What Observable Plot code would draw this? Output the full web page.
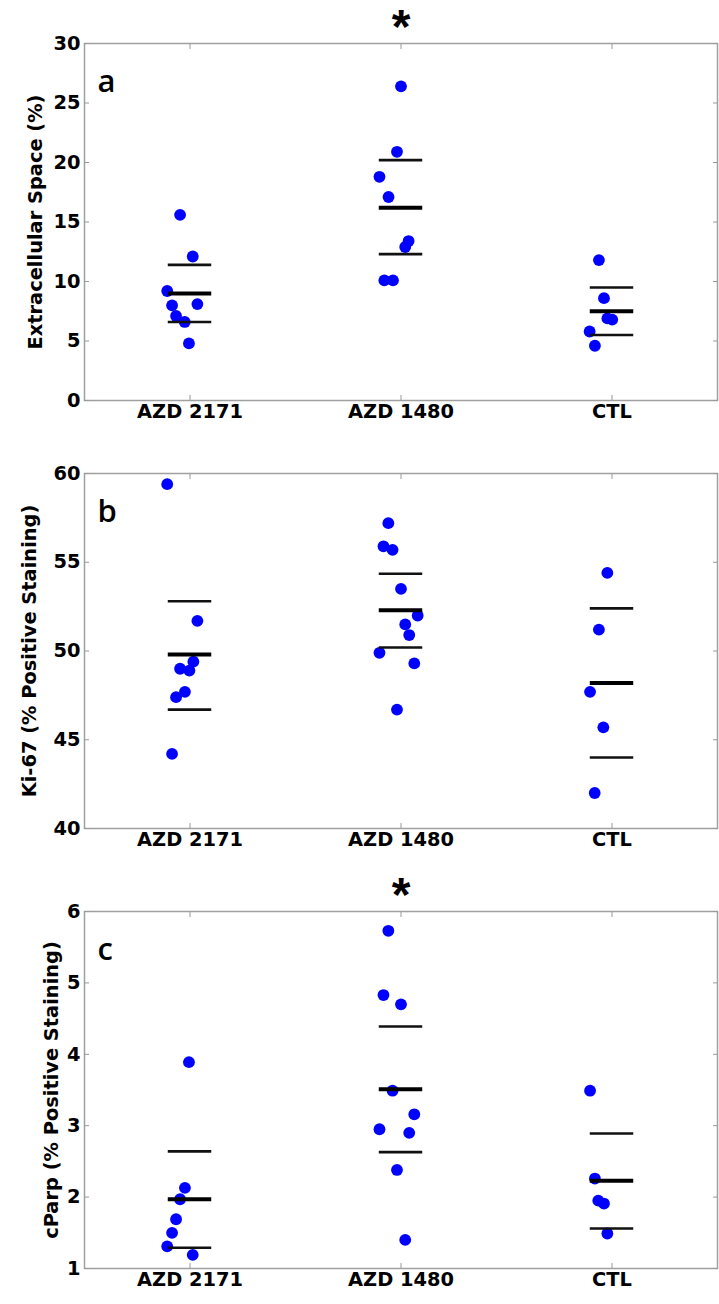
<!DOCTYPE html>
<html><head><meta charset="utf-8">
<script src="https://cdn.jsdelivr.net/npm/d3@7"></script>
<script src="https://cdn.jsdelivr.net/npm/@observablehq/plot@0.6"></script>
<style>
body{margin:0;background:#fff;}
#chart svg{display:block;}
</style>
</head><body><div id="chart"></div>
<script>
const groups = ["AZD 2171", "AZD 1480", "CTL"];

// Panel a: Extracellular Space (%)
const ecsValue  = [15.6, 12.1, 9.2, 8.0, 8.1, 7.1, 6.6, 4.8,
                   26.4, 20.9, 18.8, 17.1, 13.4, 12.9, 10.1, 10.1,
                   11.8, 8.6, 6.9, 6.8, 5.8, 4.6];
const ecsGroup  = [0,0,0,0,0,0,0,0, 1,1,1,1,1,1,1,1, 2,2,2,2,2,2];
const ecsJitter = [-0.047, 0.013, -0.108, -0.085, 0.035, -0.066, -0.025, -0.005,
                   0, -0.019, -0.102, -0.059, 0.036, 0.020, -0.079, -0.038,
                   -0.062, -0.038, -0.022, 0.001, -0.106, -0.081];
const ecsMean   = [9.0, 16.2, 7.5];
const ecsUpper  = [11.4, 20.2, 9.5];
const ecsLower  = [6.6, 12.3, 5.5];
const ecsTicks  = [0, 5, 10, 15, 20, 25, 30];

// Panel b: Ki-67 (% Positive Staining)
const kiValue  = [59.4, 51.7, 49.4, 49.0, 48.9, 47.7, 47.4, 44.2,
                  57.2, 55.9, 55.7, 53.5, 52.0, 51.5, 50.9, 49.9, 49.3, 46.7,
                  54.4, 51.2, 47.7, 45.7, 42.0];
const kiGroup  = [0,0,0,0,0,0,0,0, 1,1,1,1,1,1,1,1,1,1, 2,2,2,2,2];
const kiJitter = [-0.108, 0.035, 0.016, -0.047, -0.003, -0.024, -0.066, -0.085,
                  -0.060, -0.083, -0.040, 0, 0.079, 0.020, 0.039, -0.102, 0.063, -0.019,
                  -0.022, -0.062, -0.104, -0.041, -0.082];
const kiMean   = [49.8, 52.3, 48.2];
const kiUpper  = [52.8, 54.35, 52.4];
const kiLower  = [46.7, 50.2, 44.0];
const kiTicks  = [40, 45, 50, 55, 60];

// Panel c: cParp (% Positive Staining)
const cpValue  = [3.89, 2.13, 1.97, 1.69, 1.50, 1.31, 1.19,
                  5.73, 4.83, 4.70, 3.49, 3.16, 2.95, 2.90, 2.38, 1.40,
                  3.49, 2.26, 1.95, 1.91, 1.49];
const cpGroup  = [0,0,0,0,0,0,0, 1,1,1,1,1,1,1,1,1, 2,2,2,2,2];
const cpJitter = [-0.005, -0.024, -0.047, -0.066, -0.085, -0.108, 0.013,
                  -0.060, -0.083, 0, -0.040, 0.063, -0.102, 0.039, -0.019, 0.020,
                  -0.104, -0.081, -0.065, -0.038, -0.022];
const cpMean   = [1.97, 3.51, 2.23];
const cpUpper  = [2.64, 4.39, 2.89];
const cpLower  = [1.29, 2.63, 1.56];
const cpTicks  = [1, 2, 3, 4, 5, 6];

const HALF = 0.103;

function panel(o) {
  const pts = o.values.map((v, i) => ({x: o.group[i] + 1 + o.jitter[i], y: v}));
  const stat = (arr) => arr.map((v, i) => ({g: i + 1, y: v}));
  const font = "DejaVu Sans, Verdana, sans-serif";
  const fs = 19.4;
  const marks = [
    Plot.frame({stroke: "#a0a0a0", strokeWidth: 1.5}),
    Plot.axisY({anchor: "left", ticks: o.ticks, tickSize: -5, tickPadding: 9, stroke: "#999", fill: "#000", label: null,
      tickFormat: d => String(d), fontSize: fs, fontWeight: "bold"}),
    Plot.axisY({anchor: "right", ticks: o.ticks, tickSize: -5, stroke: "#999", fill: "none", label: null}),
    Plot.axisX({anchor: "bottom", ticks: [1, 2, 3], tickSize: -5, tickPadding: 9, stroke: "#999", fill: "#000", label: null,
      tickFormat: d => groups[d - 1], fontSize: fs, fontWeight: "bold"}),
    Plot.axisX({anchor: "top", ticks: [1, 2, 3], tickSize: -5, stroke: "#999", fill: "none", label: null}),
    Plot.dot(pts, {x: "x", y: "y", r: 5.9, fill: "#0000ff", stroke: "none"}),
    Plot.ruleY(stat(o.upper), {y: "y", x1: d => d.g - HALF, x2: d => d.g + HALF, stroke: "#111", strokeWidth: 2.6}),
    Plot.ruleY(stat(o.lower), {y: "y", x1: d => d.g - HALF, x2: d => d.g + HALF, stroke: "#111", strokeWidth: 2.6}),
    Plot.ruleY(stat(o.mean), {y: "y", x1: d => d.g - HALF, x2: d => d.g + HALF, stroke: "#000", strokeWidth: 4}),
    Plot.text([o.letter], {frameAnchor: "top-left", text: d => d, dx: 13, dy: 39, textAnchor: "start", lineAnchor: "middle",
      fontSize: 31, fontFamily: "Open Sans", fontWeight: 600, fill: "#000"}),
    Plot.text([o.yLabel], {frameAnchor: "left", text: d => d, dx: o.labelDx, rotate: -90, textAnchor: "middle", lineAnchor: "middle",
      fontSize: fs, fontWeight: "bold", fill: "#000"})
  ];
  if (o.star) marks.push(Plot.text(["*"], {x: 2, frameAnchor: "top", text: d => d, dy: -35, fontSize: 48, fontWeight: "bold",
    fontFamily: "Liberation Sans, Arial, sans-serif", fill: "#000"}));
  return Plot.plot({
    width: 719, height: o.height,
    marginLeft: 84, marginRight: 2, marginTop: o.marginTop, marginBottom: o.marginBottom,
    style: {fontFamily: font, fontSize: fs + "px", color: "#000", background: "#fff"},
    x: {type: "linear", domain: [0.5, 3.5]},
    y: {domain: o.domain},
    marks
  });
}

const chart = document.getElementById("chart");
chart.append(panel({values: ecsValue, group: ecsGroup, jitter: ecsJitter, mean: ecsMean, upper: ecsUpper, lower: ecsLower,
  ticks: ecsTicks, domain: [0, 30], yLabel: "Extracellular Space (%)", letter: "a", star: true, labelDx: -49,
  height: 440, marginTop: 43, marginBottom: 40}));
chart.append(panel({values: kiValue, group: kiGroup, jitter: kiJitter, mean: kiMean, upper: kiUpper, lower: kiLower,
  ticks: kiTicks, domain: [40, 60], yLabel: "Ki-67 (% Positive Staining)", letter: "b", star: false, labelDx: -55,
  height: 418, marginTop: 33, marginBottom: 30}));
chart.append(panel({values: cpValue, group: cpGroup, jitter: cpJitter, mean: cpMean, upper: cpUpper, lower: cpLower,
  ticks: cpTicks, domain: [1, 6], yLabel: "cParp (% Positive Staining)", letter: "c", star: true, labelDx: -33,
  height: 446, marginTop: 53, marginBottom: 36}));
</script>
</body></html>
